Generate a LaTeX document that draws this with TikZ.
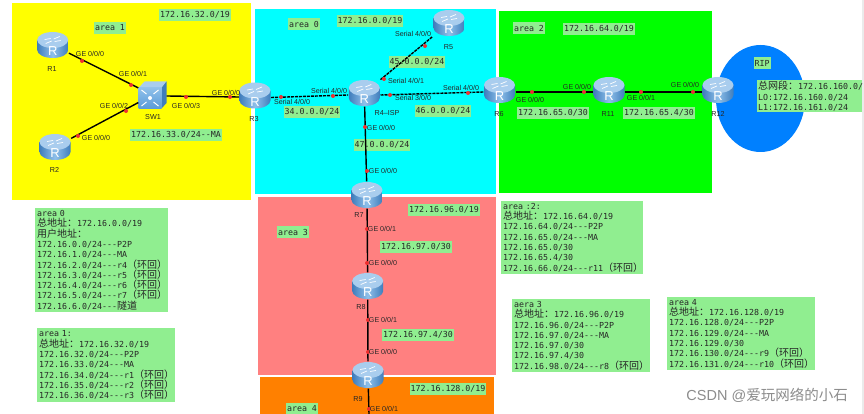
\documentclass[tikz,border=0pt]{standalone}
\usepackage{fontspec}
\setmainfont{Liberation Sans}
\setmonofont{DejaVu Sans Mono}
\newfontfamily\cjk{Noto Sans CJK SC}
\usepackage{xcolor}
\usetikzlibrary{positioning,calc}
\definecolor{areayellow}{HTML}{FFFF00}
\definecolor{areacyan}{HTML}{00FFFF}
\definecolor{areagreen}{HTML}{00FF00}
\definecolor{areapink}{HTML}{FF8080}
\definecolor{areaorange}{HTML}{FF8000}
\definecolor{ripblue}{HTML}{0080FF}
\definecolor{notegreen}{HTML}{90EE90}
\definecolor{reddot}{HTML}{F03030}
\definecolor{bodyblue}{HTML}{5B9BD8}
\definecolor{bodylight}{HTML}{8FC0EA}
\definecolor{topblue}{HTML}{A9CDEE}
\definecolor{darkedge}{HTML}{3F7DBC}
\newcommand{\cn}[1]{{\cjk\fontsize{10}{10.3}\selectfont #1}}
\newcommand{\hq}{\cn{（环回）}}

\begin{document}
\begin{tikzpicture}[
x=1pt,y=-1pt,
router/.style={rectangle,inner sep=0pt,minimum width=32pt,minimum height=27pt,
 path picture={
  \begin{scope}[shift={(path picture bounding box.center)},x=1pt,y=1pt]
  \shade[left color=darkedge,right color=darkedge,middle color=bodylight] (-15.5,5) -- (-15.5,-5) arc[start angle=180,end angle=360,x radius=15.5,y radius=8] -- (15.5,5) -- cycle;
  \fill[topblue] (0,5) ellipse[x radius=15.5,y radius=8];
  \draw[white,line width=.7pt] (-8,5.5)--(-2,6.5) (8,4.5)--(2,3.5) (-7,1.5)--(-1,4) (7,8.5)--(1,6);
  \node[text=white,inner sep=0pt,font=\fontsize{13}{13}\selectfont] at (0,-6.5) {R};
  \end{scope}
 }},
switchbox/.style={rectangle,inner sep=0pt,minimum width=28pt,minimum height=27pt,
 path picture={
  \begin{scope}[shift={(path picture bounding box.center)},x=1pt,y=1pt]
  \fill[topblue] (-14,7) -- (-8,13.5) -- (14,13.5) -- (9,7) -- cycle;
  \fill[darkedge] (9,7) -- (14,13.5) -- (14,-8) -- (9,-13.5) -- cycle;
  \shade[top color=bodylight,bottom color=bodyblue] (-14,7) rectangle (9,-13.5);
  \fill[white] (-2.5,-3) circle (2pt);
  \draw[white,line width=1pt] (-11,5)--(-6,1) (6,5)--(1,1) (-11,-11)--(-6,-7) (6,-11)--(1,-7);
  \end{scope}
 }},
hostlab/.style={font=\fontsize{7.2}{8}\selectfont,text=black!85,inner sep=0pt},
portlab/.style={font=\fontsize{7.1}{8}\selectfont,text=black!85,inner sep=0pt},
portdot/.style={circle,fill=reddot,inner sep=0pt,minimum size=4pt},
wire/.style={draw=black,line width=1.4pt},
serial/.style={draw=black,line width=1.4pt,dash pattern=on 3pt off 1pt},
netlab/.style={fill=notegreen,font=\ttfamily\fontsize{8.3}{10}\selectfont,text=black!85,inner xsep=1pt,inner ysep=0pt,minimum height=12pt},
infobox/.style={fill=notegreen,anchor=north west,align=left,inner sep=2pt,font=\ttfamily\fontsize{8.3}{10.3}\selectfont,text=black!85}
]
\useasboundingbox (0,0) rectangle (864,414);
\fill[white] (0,0) rectangle (864,414);
% areas
\fill[areayellow] (12,3) rectangle (251,200);
\fill[areacyan] (255,9) rectangle (496,194);
\fill[areagreen] (499,11) rectangle (712,193);
\fill[areapink] (258,197) rectangle (496,375);
\fill[areaorange] (260,377) rectangle (494,414);
\fill[ripblue] (760.5,98.5) ellipse[x radius=44.5,y radius=53.5];
\fill[black!8] (862,0) rectangle (864,414);
% network labels
\node[netlab] (a1) at (110,28) {area 1};
\node[netlab] (n32) at (195,15) {172.16.32.0/19};
\node[netlab] (n33) at (176,135) {172.16.33.0/24--MA};
\node[netlab] (a0) at (304,24) {area 0};
\node[netlab] (n0) at (370,21) {172.16.0.0/19};
\node[netlab] (n45) at (417,62) {45.0.0.0/24};
\node[netlab] (n34) at (312,112) {34.0.0.0/24};
\node[netlab] (n46) at (443,111) {46.0.0.0/24};
\node[netlab] (n47) at (382,145) {47.0.0.0/24};
\node[netlab] (a2) at (529,28) {area 2};
\node[netlab] (n64) at (599,29) {172.16.64.0/19};
\node[netlab] (n650) at (553,113) {172.16.65.0/30};
\node[netlab] (n654) at (659,113) {172.16.65.4/30};
\node[netlab] (rip) at (762,63) {RIP};
\node[netlab] (a3) at (293,232) {area 3};
\node[netlab] (n96) at (444,210) {172.16.96.0/19};
\node[netlab] (n970) at (416,247) {172.16.97.0/30};
\node[netlab] (n974) at (418,335) {172.16.97.4/30};
\node[netlab] (n128) at (448,389) {172.16.128.0/19};
\node[netlab] (a4) at (302,409) {area 4};
% devices
\node[router] (R1) at (52.7,45) {};
\node[router] (R2) at (55,147) {};
\node[switchbox] (SW1) at (152.5,95) {};
\node[router] (R3) at (255,95.5) {};
\node[router] (R4) at (364.3,93) {};
\node[router] (R5) at (449,23) {};
\node[router] (R6) at (499.5,90) {};
\node[router] (R11) at (609,90) {};
\node[router] (R12) at (718,90) {};
\node[router] (R7) at (367,195) {};
\node[router] (R8) at (367.7,286) {};
\node[router] (R9) at (368,375) {};
\coordinate (R9out) at (369,414);
% links
\draw[wire] (R1)--(SW1);
\draw[wire] (R2)--(SW1);
\draw[wire] ([yshift=-1pt]SW1.east)--([yshift=-1.5pt]R3.west);
\draw[serial] ([yshift=-2pt]R3.east)--([yshift=-2pt]R4.west);
\draw[serial] (R4)--(R5);
\draw[serial] ([yshift=-2pt]R4.east)--([yshift=-2pt]R6.west);
\draw[wire] (R4)--(R7);
\draw[wire] ([yshift=-2pt]R6.east)--([yshift=-2pt]R11.west);
\draw[wire] ([yshift=-2pt]R11.east)--([yshift=-2pt]R12.west);
\draw[wire] (R7)--(R8);
\draw[wire] (R8)--(R9);
\draw[wire] (R9)--(R9out);
% device names
\node[hostlab] (nR1) at (52,69) {R1};
\node[hostlab] (nR2) at (54.5,170) {R2};
\node[hostlab] (nSW1) at (153,117.5) {SW1};
\node[hostlab] (nR3) at (254,119) {R3};
\node[hostlab] (nR4) at (387,113) {R4--ISP};
\node[hostlab] (nR5) at (448.5,47) {R5};
\node[hostlab] (nR6) at (499,114) {R6};
\node[hostlab] (nR11) at (608,114) {R11};
\node[hostlab] (nR12) at (718,114) {R12};
\node[hostlab] (nR7) at (359,215) {R7};
\node[hostlab] (nR8) at (361,307) {R8};
\node[hostlab] (nR9) at (358,399) {R9};
% ports
\node[portdot] (p1) at (82,61) {};
\node[portlab] (l1) at (90,54) {GE 0/0/0};
\node[portdot] (p2) at (131,85) {};
\node[portlab] (l2) at (133,74) {GE 0/0/1};
\node[portdot] (p3) at (126,111) {};
\node[portlab] (l3) at (114,106) {GE 0/0/2};
\node[portdot] (p4) at (78,136) {};
\node[portlab] (l4) at (96,138) {GE 0/0/0};
\node[portdot] (p5) at (186,97) {};
\node[portlab] (l5) at (186,106) {GE 0/0/3};
\node[portdot] (p6) at (230,97) {};
\node[portlab] (l6) at (226,93) {GE 0/0/0};
\node[portdot] (p7) at (281,97) {};
\node[portlab] (l7) at (292,102) {Serial 4/0/0};
\node[portdot] (p8) at (333,96) {};
\node[portlab] (l8) at (329,91) {Serial 4/0/0};
\node[portdot] (p9) at (425,46) {};
\node[portlab] (l9) at (413,34) {Serial 4/0/0};
\node[portdot] (p10) at (384,79) {};
\node[portlab] (l10) at (406,81) {Serial 4/0/1};
\node[portdot] (p11) at (390,95) {};
\node[portlab] (l11) at (413,98) {Serial 3/0/0};
\node[portdot] (p12) at (468,93) {};
\node[portlab] (l12) at (461,88) {Serial 4/0/0};
\node[portdot] (p13) at (365,127) {};
\node[portlab] (l13) at (381,128) {GE 0/0/0};
\node[portdot] (p14) at (367,171) {};
\node[portlab] (l14) at (383,171) {GE 0/0/0};
\node[portdot] (p15) at (532,92) {};
\node[portlab] (l15) at (530,100) {GE 0/0/0};
\node[portdot] (p16) at (584,92) {};
\node[portlab] (l16) at (577,87) {GE 0/0/0};
\node[portdot] (p17) at (641,92) {};
\node[portlab] (l17) at (641,98) {GE 0/0/1};
\node[portdot] (p18) at (693,92) {};
\node[portlab] (l18) at (685,85) {GE 0/0/0};
\node[portdot] (p19) at (367,229) {};
\node[portlab] (l19) at (382,229) {GE 0/0/1};
\node[portdot] (p20) at (367,263) {};
\node[portlab] (l20) at (383,263) {GE 0/0/0};
\node[portdot] (p21) at (368,320) {};
\node[portlab] (l21) at (383,320) {GE 0/0/1};
\node[portdot] (p22) at (368,352) {};
\node[portlab] (l22) at (383,352) {GE 0/0/0};
\node[portdot] (p23) at (369,409) {};
\node[portlab] (l23) at (384,409) {GE 0/0/1};
% notes
\node[infobox,minimum width=133pt,minimum height=104pt,text width=129pt] (area0) at (35,208) {area 0\\\cn{总地址：}172.16.0.0/19\\\cn{用户地址：}\\172.16.0.0/24---P2P\\172.16.1.0/24---MA\\172.16.2.0/24---r4\hq\\172.16.3.0/24---r5\hq\\172.16.4.0/24---r6\hq\\172.16.5.0/24---r7\hq\\172.16.6.0/24---\cn{隧道}};
\node[infobox,minimum width=138pt,minimum height=74pt,text width=134pt] (area1) at (37,328) {area 1:\\\cn{总地址：}172.16.32.0/19\\172.16.32.0/24---P2P\\172.16.33.0/24---MA\\172.16.34.0/24---r1\hq\\172.16.35.0/24---r2\hq\\172.16.36.0/24---r3\hq};
\node[infobox,minimum width=142pt,minimum height=73pt,text width=138pt] (area2) at (501,201) {area :2:\\\cn{总地址：}172.16.64.0/19\\172.16.64.0/24---P2P\\172.16.65.0/24---MA\\172.16.65.0/30\\172.16.65.4/30\\172.16.66.0/24---r11\hq};
\node[infobox,minimum width=138pt,minimum height=73pt,text width=134pt] (area3) at (512,299) {aera 3\\\cn{总地址：}172.16.96.0/19\\172.16.96.0/24---P2P\\172.16.97.0/24---MA\\172.16.97.0/30\\172.16.97.4/30\\172.16.98.0/24---r8\hq};
\node[infobox,minimum width=148pt,minimum height=72pt,text width=144pt] (area4) at (667,297) {area 4\\\cn{总地址：}172.16.128.0/19\\172.16.128.0/24---P2P\\172.16.129.0/24---MA\\172.16.129.0/30\\172.16.130.0/24---r9\hq\\172.16.131.0/24---r10\hq};
\node[infobox,minimum width=105pt,minimum height=32pt,text width=103pt,inner sep=1pt] (ripnote) at (757,80) {\cn{总网段：}172.16.160.0/\\LO:172.16.160.0/24\\L1:172.16.161.0/24};
% mark
\node[font=\fontsize{14.5}{16}\selectfont,text=black!45,inner sep=0pt,anchor=east] (mark) at (848,395.5) {CSDN @\cn{\fontsize{14.5}{16}\selectfont 爱玩网络的小石}};
\end{tikzpicture}
\end{document}
